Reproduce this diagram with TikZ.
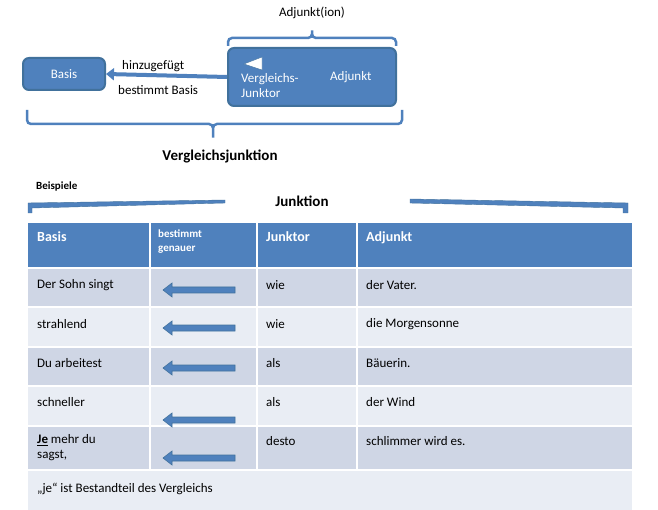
\documentclass[tikz,border=0pt]{standalone}
\usepackage{fontspec}
\setmainfont{Carlito}
\usetikzlibrary{arrows.meta}
\definecolor{hb}{HTML}{4F81BD}
\definecolor{dk}{HTML}{CFD6E5}
\definecolor{lt}{HTML}{E9EDF4}
\definecolor{bd}{HTML}{41719C}
\tikzset{
 txt/.style={font=\fontsize{13}{15}\selectfont, anchor=west, inner sep=0},
 htxt/.style={font=\fontsize{14}{16}\selectfont\bfseries, text=white, anchor=north west, inner sep=0, align=left},
 box/.style={draw=bd, line width=2pt, fill=hb, rounded corners=6pt},
 brace/.style={draw=hb, line width=2.5pt, rounded corners=4pt},
 tarr/.style={draw=bd, fill=hb, line width=0.6pt},
}
\newcommand{\tarrow}[1]{\draw[tarr] (235,#1-3) -- (172,#1-3) -- (172,#1-7) -- (163,#1) -- (172,#1+7) -- (172,#1+3) -- (235,#1+3) -- cycle;}
\begin{document}
\begin{tikzpicture}[x=1pt,y=-1pt]
\useasboundingbox (0,0) rectangle (658,510);
% top diagram
\node[box, minimum width=82, minimum height=32, text=white, font=\fontsize{13}{15}\selectfont] (basis) at (64,74) {Basis};
\node[box, minimum width=168, minimum height=58] (adj) at (312,77) {};
\draw[fill=white, draw=bd] (244,64) -- (262,57) -- (262,70) -- cycle;
\node[txt, text=white, anchor=north west, align=left] (vj) at (241,73) {Vergleichs-\\Junktor};
\node[txt, text=white] (ad) at (330,77) {Adjunkt};
\draw[draw=hb, line width=4pt, -{Triangle[length=8pt,width=12pt]}] (adj.west) -- (basis.east);
\node[txt] (hz) at (122,66) {hinzugefügt};
\node[txt] (bb) at (118,90) {bestimmt Basis};
\draw[brace] (228,46) -- (228,38) -- (312,38) -- (312,28) -- (312,38) -- (396,38) -- (396,46);
\node[txt, anchor=center] (adjion) at (312,13) {Adjunkt(ion)};
\draw[brace] (27,110) -- (27,124) -- (213,124) -- (213,140) -- (213,124) -- (402,124) -- (402,110);
\node[txt, anchor=center, font=\fontsize{15}{17}\selectfont\bfseries] (vjn) at (220,157) {Vergleichsjunktion};
\node[txt, font=\fontsize{11}{13}\selectfont\bfseries] (bsp) at (36,187) {Beispiele};
\node[txt, anchor=center, font=\fontsize{15}{17}\selectfont\bfseries] (junk) at (302,201) {Junktion};
\draw[fill=hb, draw=bd] (28,213) -- (28,203) -- (225,200) -- (225,203) -- (32,208) -- (32,213) -- cycle;
\draw[fill=hb, draw=bd] (410,199) -- (628,203) -- (628,213) -- (623,213) -- (623,208) -- (410,203) -- cycle;
% table
\fill[hb] (28,223) rectangle (632,268);
\fill[dk] (28,268) rectangle (632,307);
\fill[lt] (28,307) rectangle (632,347);
\fill[dk] (28,347) rectangle (632,386);
\fill[lt] (28,386) rectangle (632,426);
\fill[dk] (28,426) rectangle (632,470);
\fill[lt] (28,470) rectangle (632,510);
\foreach \y in {268,307,347,386,426,470} \draw[white, line width=1.5pt] (28,\y) -- (632,\y);
\foreach \x in {150,257,357} \draw[white, line width=1.5pt] (\x,223) -- (\x,470);
\node[htxt] (h1) at (37,231) {Basis};
\node[htxt, font=\fontsize{11}{14}\selectfont\bfseries] (h2) at (158,230) {bestimmt\\genauer};
\node[htxt] (h3) at (266,231) {Junktor};
\node[htxt] (h4) at (366,231) {Adjunkt};
\node[txt] (a1) at (37,285) {Der Sohn singt};
\node[txt] (b1) at (266,285) {wie};
\node[txt] (c1) at (366,285) {der Vater.};
\node[txt] (a2) at (37,324) {strahlend};
\node[txt] (b2) at (266,324) {wie};
\node[txt] (c2) at (366,324) {die Morgensonne};
\node[txt] (a3) at (37,363) {Du arbeitest};
\node[txt] (b3) at (266,363) {als};
\node[txt] (c3) at (366,363) {Bäuerin.};
\node[txt] (a4) at (37,402) {schneller};
\node[txt] (b4) at (266,402) {als};
\node[txt] (c4) at (366,402) {der Wind};
\node[txt, anchor=north west, align=left] (a5) at (37,434) {\textbf{\underline{Je}} mehr du\\sagst,};
\node[txt] (b5) at (266,441) {desto};
\node[txt] (c5) at (366,441) {schlimmer wird es.};
\node[txt] (last) at (37,489) {„je“ ist Bestandteil des Vergleichs};
\tarrow{290}
\tarrow{328}
\tarrow{368}
\tarrow{420}
\tarrow{458}
\end{tikzpicture}
\end{document}
